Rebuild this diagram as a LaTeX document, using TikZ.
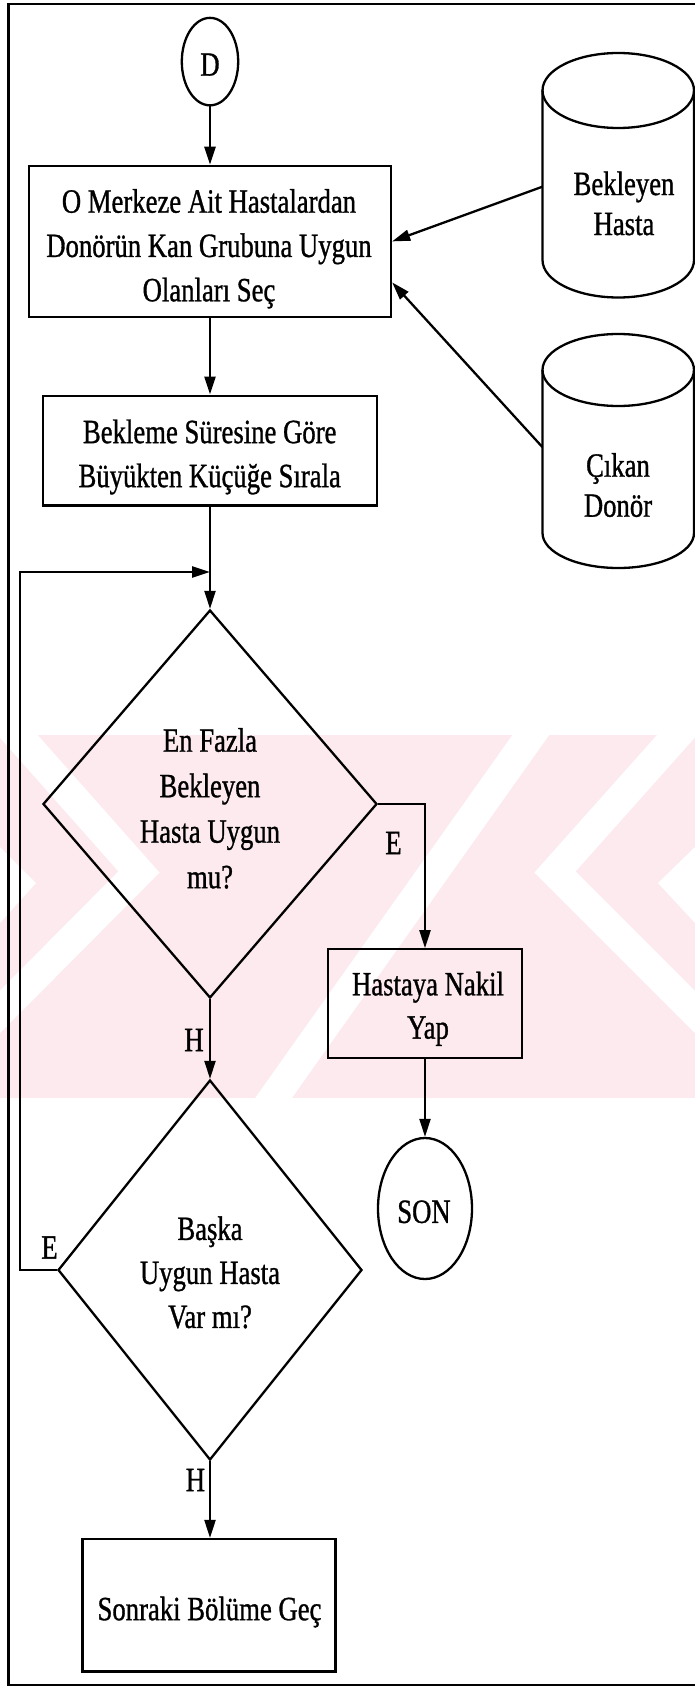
\documentclass[tikz,border=0pt]{standalone}
\usepackage{fontspec}
\newfontfamily\tnr[FakeStretch=0.785,FakeBold=0.9]{Liberation Serif}
\usetikzlibrary{arrows.meta,shapes.geometric}
\definecolor{wmpink}{RGB}{252,234,238}
\begin{document}
\begin{tikzpicture}[x=1pt,y=-1pt,
  txt/.style={font=\tnr\fontsize{34}{#1}\selectfont, align=center, inner sep=0pt},
  txt/.default=44,
  shp/.style={draw, line width=2.3pt, inner sep=0pt},
  proc/.style={shp, rectangle},
  dec/.style={shp, diamond},
  term/.style={shp, ellipse},
  holder/.style={inner sep=0pt, rectangle},
  flow/.style={line width=2.3pt},
  arr/.style={flow, -{Triangle[length=18pt,width=11pt]}},
  cyl/.style={line width=2.3pt},
  frame/.style={line width=2.6pt}
]
\useasboundingbox (0,0) rectangle (695,1688);
% background watermark band
\begin{scope}
  \clip (0,735) rectangle (695,1098);
  \fill[wmpink] (0,735) rectangle (695,1098);
  \draw[white, line width=30pt] (-40,670) -- (139,872) -- (-40,1052);
  \draw[white, line width=30pt] (735,670) -- (555,872) -- (735,1052);
  \fill[white] (0,847) -- (36,883) -- (0,923) -- cycle;
  \fill[white] (695,847) -- (658,883) -- (695,923) -- cycle;
  \draw[white, line width=30pt] (265,1110) -- (540,722);
\end{scope}
% outer frame
\draw[frame] (695,4) -- (8.5,4) -- (8.5,1685) -- (695,1685);

% start
\node[term, minimum width=56.4pt, minimum height=87.5pt] (D) at (210,61.6) {};
\node[txt] (Dt) at (210,64.6) {D};

% box 1
\node[proc, minimum width=362pt, minimum height=151pt] (box1) at (210,241.4) {};
\node[txt=44.3] (box1t) at (209,248.8) {O Merkeze Ait Hastalardan\\Donörün Kan Grubuna Uygun\\Olanları Seç};

% box 2
\node[proc, minimum width=333.8pt, minimum height=109.7pt] (box2) at (210,450.5) {};
\node[txt=44] (box2t) at (209.7,457) {Bekleme Süresine Göre\\Büyükten Küçüğe Sırala};

% cylinder 1
\node[holder, minimum width=151.5pt, minimum height=244.5pt] (cyl1) at (618.25,175.25) {};
\draw[cyl] (618.25,90.5) ellipse [x radius=75.75pt, y radius=37.5pt];
\draw[cyl] (542.5,90.5) -- (542.5,260) arc[start angle=180, end angle=360, x radius=75.75pt, y radius=37.5pt] -- (694,90.5);
\node[txt=40] (cyl1t) at (624,203.4) {Bekleyen\\Hasta};

% cylinder 2
\node[holder, minimum width=151.5pt, minimum height=234pt] (cyl2) at (618.25,451) {};
\draw[cyl] (618.25,370) ellipse [x radius=75.75pt, y radius=36pt];
\draw[cyl] (542.5,370) -- (542.5,533) arc[start angle=180, end angle=360, x radius=75.75pt, y radius=35pt] -- (694,370);
\node[txt=40] (cyl2t) at (618,485.1) {Çıkan\\Donör};

% decision 1
\node[dec, minimum width=334pt, minimum height=388pt] (d1) at (210,804) {};
\node[txt=45.5] (d1t) at (210,808.4) {En Fazla\\Bekleyen\\Hasta Uygun\\mu?};

% box 3
\node[proc, minimum width=194pt, minimum height=108.4pt] (box3) at (425,1003.5) {};
\node[txt=43.3] (box3t) at (428,1008.8) {Hastaya Nakil\\Yap};

% end
\node[term, minimum width=94pt, minimum height=141pt] (son) at (425,1208.5) {};
\node[txt] (sont) at (424,1211.8) {SON};

% decision 2
\node[dec, minimum width=304pt, minimum height=380pt] (d2) at (210,1270) {};
\node[txt=44] (d2t) at (210,1272.4) {Başka\\Uygun Hasta\\Var mı?};

% box 4
\node[proc, minimum width=253pt, minimum height=132.5pt] (box4) at (209,1605.3) {};
\node[txt] (box4t) at (209.5,1612) {Sonraki Bölüme Geç};

% labels
\node[txt] (e1) at (393.5,843) {E};
\node[txt] (h1) at (194,1040) {H};
\node[txt] (e2) at (49.5,1247.5) {E};
\node[txt] (h2) at (195.4,1480) {H};

% connectors
\coordinate (j) at (210,572);
\draw[arr] (D.south) -- (box1.north);
\draw[arr] (box1.south) -- (box2.north);
\draw[arr] (box2.south) -- (d1.north);
\draw[arr] (d2.west) -- ++(-37,0) |- (j);
\draw[arr] (d1.east) -| (box3.north);
\draw[arr] (box3.south) -- (son.north);
\draw[arr] (d1.south) -- (d2.north);
\draw[arr] (d2.south) -- (d2.south |- box4.north);
\draw[arr] ([yshift=-11.5pt]cyl1.west) -- (box1.east);
\draw[arr] ([yshift=4pt]cyl2.west) -- ([yshift=-41pt]box1.east);
\end{tikzpicture}
\end{document}
